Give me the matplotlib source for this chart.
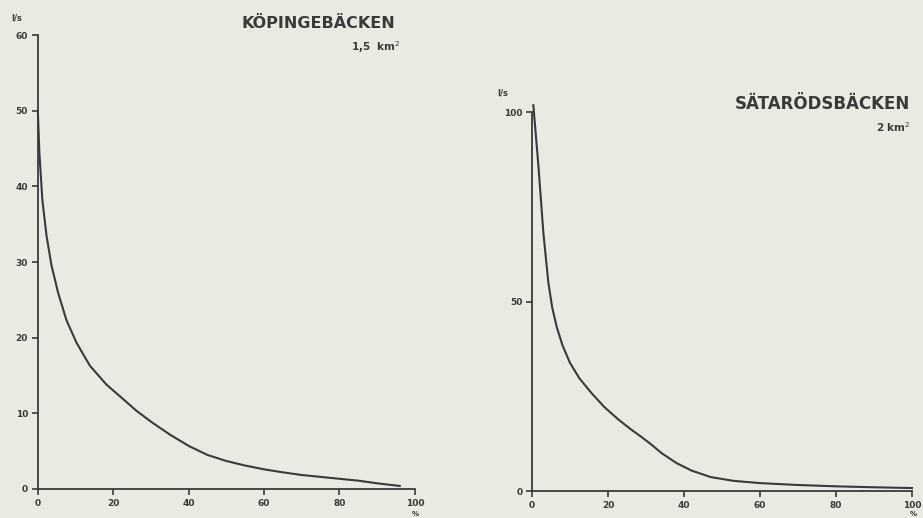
import matplotlib.pyplot as plt

# Köpingebäcken (1,5 km2), duration curve: % of time vs l/s
kop_pct = [0, 0.4, 1.2, 2.3, 3.6, 5.4, 7.6, 10.3, 13.8, 18.2, 22.6, 26, 30,
           35, 40, 45, 50, 55, 60, 65, 70, 75, 80, 85, 90, 96]
kop_flow = [50, 44.5, 38.2, 33.5, 29.6, 25.9, 22.3, 19.3, 16.3, 13.8, 11.9,
            10.4, 8.9, 7.2, 5.7, 4.5, 3.7, 3.1, 2.6, 2.2, 1.85, 1.6, 1.35,
            1.1, 0.75, 0.4]

# Sätarödsbäcken (2 km2)
sat_pct = [0.35, 1, 1.7, 3.0, 4.3, 5.3, 6.5, 8, 10, 12.5, 15.7, 19, 22.7, 26,
           28.9, 31.5, 34.1, 38, 42, 47, 53, 60, 70, 80, 90, 100]
sat_flow = [101.8, 94, 85.6, 68, 55, 48.5, 43.3, 38.5, 33.8, 29.7, 25.8, 22.2,
            18.9, 16.3, 14.2, 12.2, 10, 7.4, 5.4, 3.7, 2.7, 2.1, 1.6, 1.25,
            1.0, 0.8]

x_ticks = [0, 20, 40, 60, 80, 100]
kop_yticks = [0, 10, 20, 30, 40, 50, 60]
sat_yticks = [0, 50, 100]

paper = '#e9ebe3'
ink = '#3a3a3a'


def style(ax, yticks, ymax):
    ax.set_facecolor(paper)
    ax.set_xlim(0, 100)
    ax.set_ylim(0, ymax)
    ax.set_xticks(x_ticks)
    ax.set_yticks(yticks)
    for s in ['top', 'right']:
        ax.spines[s].set_visible(False)
    for s in ['left', 'bottom']:
        ax.spines[s].set_color(ink)
        ax.spines[s].set_linewidth(1.3)
    ax.tick_params(colors=ink, labelsize=6.5, width=1.2, length=4,
                   direction='out', pad=3)
    for lab in ax.get_xticklabels() + ax.get_yticklabels():
        lab.set_fontweight('bold')


def main():
    fig = plt.figure(figsize=(9.23, 5.18), dpi=100)
    fig.patch.set_facecolor(paper)

    ax1 = fig.add_axes([0.041, 0.056, 0.4085, 0.876])
    ax1.plot(kop_pct, kop_flow, color=ink, lw=1.5, clip_on=False,
             solid_joinstyle='round')
    style(ax1, kop_yticks, 60)

    ax2 = fig.add_axes([0.5764, 0.052, 0.4117, 0.7317])
    ax2.plot(sat_pct, sat_flow, color=ink, lw=1.5, clip_on=False,
             solid_joinstyle='round')
    style(ax2, sat_yticks, 100)

    fig.text(17 / 923, 1 - 18 / 518, 'l/s', fontsize=6, fontweight='bold',
             color=ink, ha='center', va='center')
    fig.text(503 / 923, 1 - 93 / 518, 'l/s', fontsize=6, fontweight='bold',
             color=ink, ha='center', va='center')

    fig.text(318 / 923, 1 - 24 / 518, 'KÖPINGEBÄCKEN', fontsize=11.5,
             fontweight='bold', color=ink, ha='center', va='center')
    fig.text(400 / 923, 1 - 47 / 518, '1,5  km$^{2}$', fontsize=7.5,
             fontweight='bold', color=ink, ha='right', va='center')

    fig.text(910 / 923, 1 - 104 / 518, 'SÄTARÖDSBÄCKEN', fontsize=12,
             fontweight='bold', color=ink, ha='right', va='center')
    fig.text(910 / 923, 1 - 127 / 518, '2 km$^{2}$', fontsize=7.5,
             fontweight='bold', color=ink, ha='right', va='center')

    fig.text(415 / 923, 1 - 514 / 518, '%', fontsize=5, fontweight='bold',
             color=ink, ha='center', va='center')
    fig.text(913 / 923, 1 - 514 / 518, '%', fontsize=5, fontweight='bold',
             color=ink, ha='center', va='center')

    fig.savefig('out.png', dpi=100, facecolor=paper)
    plt.close(fig)


if __name__ == '__main__':
    main()
